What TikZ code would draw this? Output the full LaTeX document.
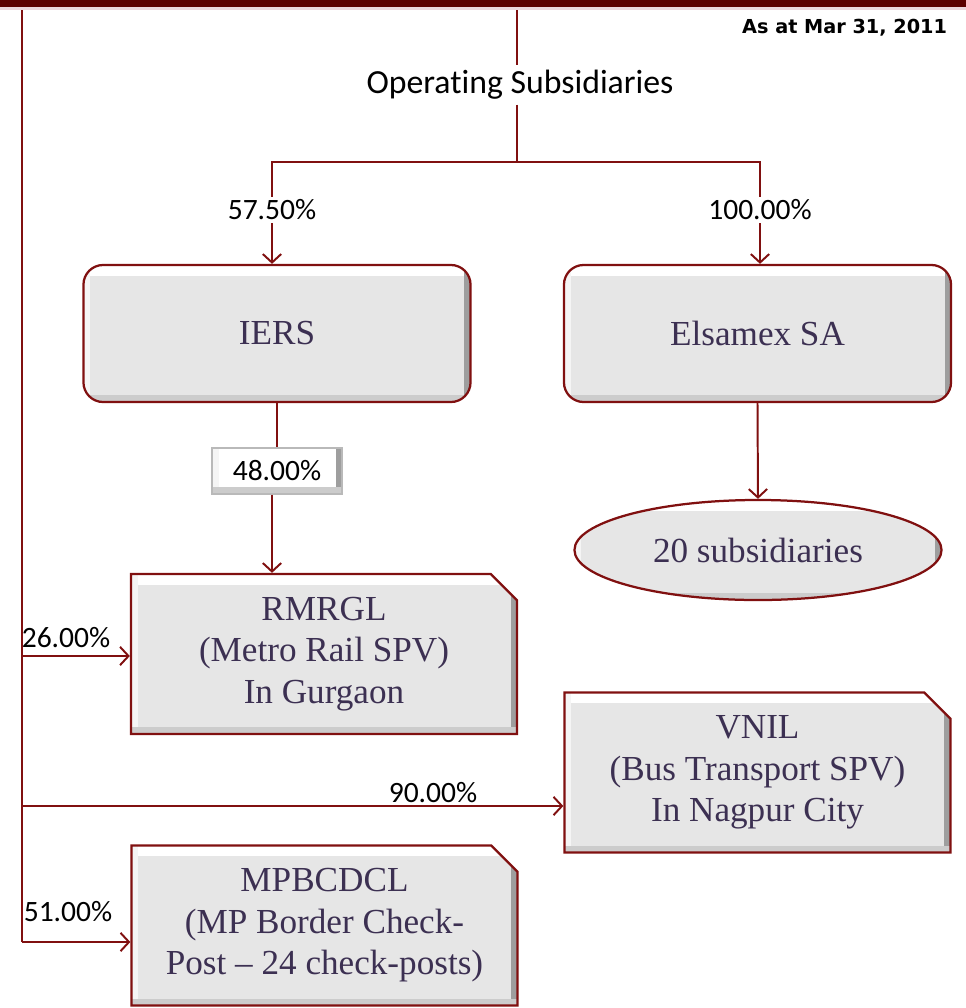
\documentclass[tikz,border=0pt]{standalone}
\usepackage{fontspec}
\setmainfont{Liberation Serif}
\newfontfamily\labelfont[Ligatures=NoCommon]{Carlito}
\newfontfamily\datefont{DejaVu Sans}
\usetikzlibrary{shapes.geometric,shapes.misc,arrows.meta}
\definecolor{maroon}{RGB}{128,16,16}
\definecolor{barred}{RGB}{92,0,0}
\definecolor{barpink}{RGB}{236,214,220}
\definecolor{boxgray}{RGB}{230,230,230}
\definecolor{inkpurple}{RGB}{60,48,82}
\tikzset{
  link/.style={draw=maroon, line width=1.4pt},
  arr/.style={link, -{Straight Barb[length=6pt,width=13pt]}},
  bevel/.style={path picture={
    \draw[white, line width=15pt] (path picture bounding box.north west) -- (path picture bounding box.north east);
    \draw[white!60!boxgray, line width=10pt] (path picture bounding box.north west) -- (path picture bounding box.south west);
    \draw[black!38, line width=9pt] (path picture bounding box.north east) -- (path picture bounding box.south east);
    \draw[black!20, line width=10pt] (path picture bounding box.south west) -- (path picture bounding box.south east);
  }},
  company/.style={draw=maroon, line width=1.6pt, fill=boxgray, text=inkpurple, bevel,
    font=\fontsize{25}{29.5}\selectfont, align=center},
  holding/.style={company, rounded corners=14pt, minimum width=9.675cm, minimum height=3.425cm},
  spv/.style={company, chamfered rectangle, chamfered rectangle corners=north east,
    chamfered rectangle xsep=0.55cm, minimum width=9.65cm, minimum height=4cm, inner sep=0pt},
  pct/.style={font=\labelfont\fontsize{21}{24}\selectfont, inner sep=2pt},
}
\begin{document}
\begin{tikzpicture}[x=0.025cm, y=-0.025cm]
  \useasboundingbox (0,0) rectangle (966,1008);
  % top band
  \fill[barred] (0,0) rectangle (966,7);
  \fill[barpink] (0,7) rectangle (966,10);
  \node[anchor=east, font=\datefont\bfseries\fontsize{13.7}{15}\selectfont] (asat) at (952,28) {As at Mar 31, 2011};

  \node[font=\labelfont\fontsize{24}{28}\selectfont] (ops) at (520,85) {Operating Subsidiaries};

  % holding companies
  \node[holding] (iers) at (277,333.5) {IERS};
  \node[holding] (elsamex) at (757.5,333.5) {Elsamex SA};
  \node[pct] (pctA) at (272,210) {57.50\%};
  \node[pct] (pctB) at (760,210) {100.00\%};

  \node[pct, draw=gray!55, fill=white, line width=0.8pt, bevel, minimum width=3.25cm, minimum height=1.15cm] (pctC) at (277,471) {48.00\%};
  \node[company, ellipse, minimum width=9.175cm, minimum height=2.5cm, inner sep=0pt] (subs) at (758,550) {20 subsidiaries};

  % SPVs
  \node[spv] (rmrgl) at (324,654) {RMRGL\\(Metro Rail SPV)\\In Gurgaon};
  \node[spv] (vnil) at (757.5,772.5) {VNIL\\(Bus Transport SPV)\\In Nagpur City};
  \node[spv] (mpb) at (324.5,925.5) {MPBCDCL\\(MP Border Check-\\Post -- 24 check-posts)};

  \node[pct] (pctD) at (66,638) {26.00\%};
  \node[pct] (pctE) at (433,793) {90.00\%};
  \node[pct] (pctF) at (68,912) {51.00\%};

  % connectors
  \coordinate (topC) at (517,10);
  \coordinate (fork) at (517,162);
  \coordinate (trunk) at (22,10);
  \coordinate (b1) at (22,656);
  \coordinate (b2) at (22,806);
  \coordinate (b3) at (22,942);
  \draw[link] (topC) -- (ops.north -| topC);
  \draw[link] (ops.south -| fork) -- (fork);
  \draw[link] (fork) -| (pctA.north);
  \draw[link] (fork) -| (pctB.north);
  \draw[arr] (pctA.south) -- (pctA |- iers.north);
  \draw[arr] (pctB.south) -- (pctB |- elsamex.north);
  \draw[link] (iers.south) -- (iers.south |- pctC.north);
  \draw[arr] (pctC.south -| pctA) -- (pctA |- rmrgl.north);
  \draw[arr] (elsamex.south) -- (subs.north);
  \draw[link] (trunk) -- (b3);
  \draw[arr] (b1) -- (b1 -| rmrgl.west);
  \draw[arr] (b2) -- (b2 -| vnil.west);
  \draw[arr] (b3) -- (b3 -| mpb.west);
\end{tikzpicture}
\end{document}
